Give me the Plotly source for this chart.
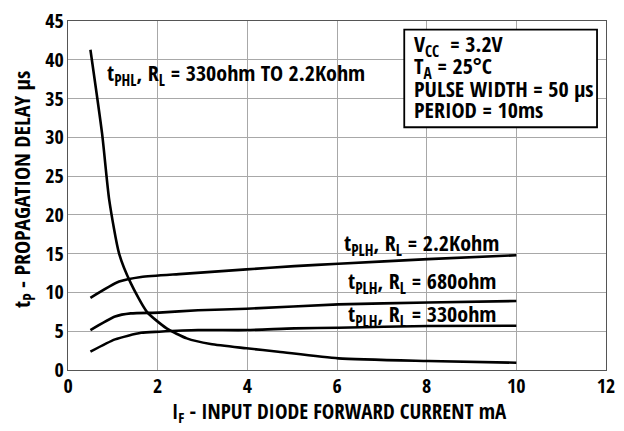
import plotly.graph_objects as go

# Data
x_phl = [0.5, 0.76, 0.92, 1.14, 1.4, 1.76, 2.2, 2.65, 3.18, 3.98, 4.69, 6.03, 8.03, 10.0]
y_phl = [41.3, 30.5, 21.9, 15.0, 11.2, 7.5, 5.37, 4.08, 3.35, 2.8, 2.36, 1.5, 1.16, 0.94]

x_2k2 = [0.5, 1.14, 1.63, 2.56, 3.98, 5.05, 6.03, 8.03, 10.0]
y_2k2 = [9.3, 11.4, 12.0, 12.4, 12.97, 13.4, 13.7, 14.3, 14.8]

x_680 = [0.5, 1.05, 1.4, 2.03, 2.9, 3.98, 6.03, 8.03, 10.0]
y_680 = [5.15, 6.9, 7.3, 7.4, 7.7, 7.9, 8.46, 8.7, 8.9]

x_330 = [0.5, 1.05, 1.63, 2.03, 2.9, 3.98, 5.05, 6.03, 8.03, 10.0]
y_330 = [2.36, 3.95, 4.8, 4.94, 5.15, 5.15, 5.37, 5.45, 5.67, 5.7]

x_ticks = [0, 2, 4, 6, 8, 10, 12]
y_ticks = [0, 5, 10, 15, 20, 25, 30, 35, 40, 45]

FONT = "Open Sans Condensed, Roboto Condensed, sans-serif"

fig = go.Figure()
for xs, ys in [(x_phl, y_phl), (x_2k2, y_2k2), (x_680, y_680), (x_330, y_330)]:
    fig.add_trace(go.Scatter(x=xs, y=ys, mode="lines",
                             line=dict(color="black", width=2.6, shape="spline", smoothing=0.6),
                             showlegend=False, hoverinfo="skip"))

axis_common = dict(showgrid=True, gridcolor="#a8a8a8", gridwidth=1.3,
                   showline=True, linecolor="#555555", linewidth=1.3, mirror=True,
                   zeroline=False, ticks="", automargin=False, ticklabeloverflow="allow",
                   tickfont=dict(family=FONT, size=20, color="black", weight="bold"))

fig.update_xaxes(range=[0, 12], tickvals=x_ticks, ticktext=[str(v) for v in x_ticks],
                 ticklabelstandoff=-2, **axis_common)
fig.update_yaxes(range=[0, 45], tickvals=y_ticks, ticktext=[str(v) for v in y_ticks],
                 ticklabelstandoff=-1, **axis_common)

fig.add_shape(type="rect", xref="x", yref="y", x0=7.5, x1=11.8, y0=31.3, y1=43.9,
              line=dict(color="black", width=1.8), fillcolor="white", layer="above")

lab_font = dict(family=FONT, size=22, color="black", weight="bold")
annotations = [
    dict(x=0.82, y=38.2, text="t<sub>PHL</sub>, R<sub>L</sub> = 330ohm TO 2.2Kohm", xanchor="left"),
    dict(x=7.89, y=16.2, text="t<sub>PLH</sub>, R<sub>L</sub> = 2.2Kohm", xanchor="center"),
    dict(x=7.89, y=11.35, text="t<sub>PLH</sub>, R<sub>L</sub> = 680ohm", xanchor="center"),
    dict(x=7.89, y=7.07, text="t<sub>PLH</sub>, R<sub>L</sub> = 330ohm", xanchor="center"),
    dict(x=7.68, y=41.9, text="V<sub>CC</sub>  = 3.2V", xanchor="left"),
    dict(x=7.68, y=39.1, text="T<sub>A</sub> = 25°C", xanchor="left"),
    dict(x=7.68, y=36.3, text="PULSE WIDTH = 50 μs", xanchor="left"),
    dict(x=7.68, y=33.6, text="PERIOD = 10ms", xanchor="left"),
]
for a in annotations:
    fig.add_annotation(xref="x", yref="y", showarrow=False, yanchor="middle", font=lab_font, **a)

fig.add_annotation(xref="paper", yref="paper", x=0.504, y=-0.12, showarrow=False,
                   text="I<sub>F</sub> - INPUT DIODE FORWARD CURRENT mA",
                   xanchor="center", yanchor="middle", font=dict(lab_font, size=21))
fig.add_annotation(xref="paper", yref="paper", x=-0.0836, y=0.516, showarrow=False,
                   text="t<sub>P</sub> - PROPAGATION DELAY μs", textangle=-90,
                   xanchor="center", yanchor="middle", font=dict(lab_font, size=22))

# page body has an 8px margin; figure sized so it ends at the window edge
fig.update_layout(width=616, height=423, margin=dict(l=60, r=18, t=13, b=61),
                  plot_bgcolor="white", paper_bgcolor="white",
                  font=dict(family=FONT, size=20, color="black"))

fig.write_html("out.html")
